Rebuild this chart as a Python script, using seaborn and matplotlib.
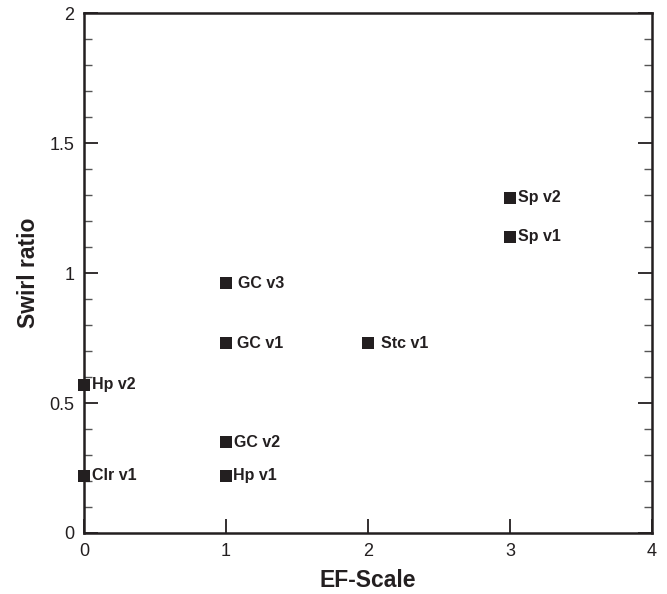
import matplotlib
matplotlib.use("Agg")
import matplotlib.pyplot as plt
import seaborn as sns
import pandas as pd
from matplotlib.ticker import MultipleLocator

ef_scale = [3, 3, 1, 1, 2, 0, 1, 1, 0]
swirl = [1.29, 1.14, 0.96, 0.73, 0.73, 0.57, 0.35, 0.22, 0.22]
names = ["Sp v2", "Sp v1", "GC v3", "GC v1", "Stc v1", "Hp v2", "GC v2", "Hp v1", "Clr v1"]

# label gaps (pixels to the right of the marker centre)
label_gap_px = [8, 8, 12, 11, 13, 8, 8, 7, 8]

df = pd.DataFrame({"EF-Scale": ef_scale, "Swirl ratio": swirl, "name": names})

sns.set_theme(style="white")
plt.rcParams['font.family'] = ['Liberation Sans', 'DejaVu Sans']

fig = plt.figure(figsize=(6.67, 5.94), dpi=100)
ax = fig.add_axes([0.126, 0.1027, 0.8515, 0.8753])

ink = "#231f20"
sns.scatterplot(data=df, x="EF-Scale", y="Swirl ratio", marker="s", s=85,
                color=ink, edgecolor=ink, linewidth=0, ax=ax, clip_on=False, zorder=5)

for x, y, n, g in zip(ef_scale, swirl, names, label_gap_px):
    ax.annotate(n, (x, y), xytext=(g * 0.72, 0), textcoords="offset points",
                ha="left", va="center", fontsize=11.5, fontweight="bold", color=ink)

ax.set_xlim(0, 4)
ax.set_ylim(0, 2)
ax.yaxis.set_minor_locator(MultipleLocator(0.1))
ax.set_yticks([0, 0.5, 1, 1.5, 2])
ax.set_yticklabels(["0", "0.5", "1", "1.5", "2"])
ax.set_xticks([0, 1, 2, 3, 4])
ax.set_xticklabels(["0", "1", "2", "3", "4"])

ax.tick_params(axis="both", which="major", direction="in", length=10, width=1.3,
               color=ink, labelsize=13, labelcolor=ink, pad=7)
ax.tick_params(axis="y", which="minor", direction="in", length=6, width=1.0, color="#555555")
ax.tick_params(axis="y", which="both", left=True, right=True)
ax.tick_params(axis="x", which="both", bottom=True, top=False)

for sp in ax.spines.values():
    sp.set_visible(True)
    sp.set_color(ink)
    sp.set_linewidth(1.8)

ax.set_xlabel("EF-Scale", fontsize=16.5, fontweight="bold", color=ink, labelpad=7)
ax.set_ylabel("Swirl ratio", fontsize=16.5, fontweight="bold", color=ink, labelpad=7)
ax.grid(False)

fig.savefig("out.png", dpi=100)
